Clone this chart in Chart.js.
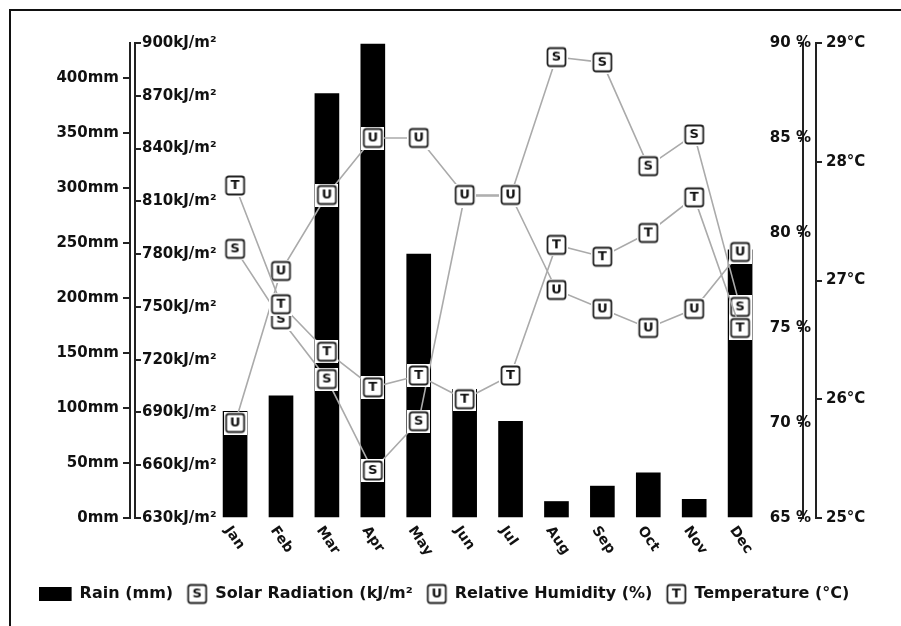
<!DOCTYPE html>
<html>
<head>
<meta charset="utf-8">
<script src="https://cdn.jsdelivr.net/npm/chart.js@4.4.1/dist/chart.umd.min.js"></script>
<style>
  html, body { margin: 0; padding: 0; background: #fff; }
  #wrap { position: relative; width: 901px; height: 626px; }
  #frame { position: absolute; left: 9px; top: 9px; width: 892px; height: 617px;
           border-top: 2px solid #111; border-left: 2px solid #111; box-sizing: border-box; }
  #chart { position: absolute; left: 0; top: 0; }
</style>
</head>
<body>
<div id="wrap">
  <div id="frame"></div>
  <canvas id="chart" width="901" height="626"></canvas>
</div>
<script>
// Dados
const months = ["Jan", "Feb", "Mar", "Apr", "May", "Jun", "Jul", "Aug", "Sep", "Oct", "Nov", "Dec"];
const rain = [97, 111, 386, 431, 240, 117, 88, 15, 29, 41, 17, 244];
const solar = [783, 743, 709, 657, 685, 813, 813, 892, 889, 830, 848, 750];
const humidity = [70, 78, 82, 85, 85, 82, 82, 77, 76, 75, 76, 79];
const temperature = [27.8, 26.8, 26.4, 26.1, 26.2, 26.0, 26.2, 27.3, 27.2, 27.4, 27.7, 26.6];

const font = "DejaVu Sans";
const ink = "#111";

// Marcadores quadrados com letra
function letterBox(letter) {
	const c = document.createElement("canvas");
	c.width = 23;
	c.height = 23;
	const g = c.getContext("2d");
	g.fillStyle = "#fff";
	g.fillRect(0, 0, 23, 23);
	g.beginPath();
	g.roundRect(2.5, 2.5, 18, 18, 2.5);
	g.fillStyle = "#fff";
	g.fill();
	g.lineWidth = 1.8;
	g.strokeStyle = "#222";
	g.stroke();
	g.fillStyle = ink;
	g.font = "bold 13px '" + font + "'";
	g.textAlign = "center";
	g.textBaseline = "middle";
	g.fillText(letter, 11.5, 12);
	return c;
}

// Caixa preta da legenda da chuva (deslocada para a esquerda)
function rainBox() {
	const c = document.createElement("canvas");
	c.width = 46;
	c.height = 14;
	const g = c.getContext("2d");
	g.fillStyle = "#000";
	g.fillRect(0, 0, 33, 14);
	return c;
}

// Rótulos dos meses inclinados
const monthLabels = {
	id: "monthLabels",
	afterDraw(chart) {
		const xs = chart.scales.x;
		const ctx = chart.ctx;
		ctx.save();
		ctx.font = "bold 14px '" + font + "'";
		ctx.fillStyle = ink;
		ctx.textAlign = "left";
		ctx.textBaseline = "top";
		months.forEach((m, i) => {
			ctx.save();
			ctx.translate(xs.getPixelForValue(i) - 2, chart.chartArea.bottom + 6);
			ctx.rotate((55 * Math.PI) / 180);
			ctx.fillText(m, 0, 0);
			ctx.restore();
		});
		ctx.restore();
	},
};

const lineStyle = {
	type: "line",
	borderColor: "#aaaaaa",
	borderWidth: 1.6,
	pointRadius: 9,
	tension: 0,
	xAxisID: "x",
};

Chart.defaults.font.family = font;
Chart.defaults.font.weight = "bold";
Chart.defaults.font.size = 15;
Chart.defaults.color = ink;

new Chart(document.getElementById("chart"), {
	type: "bar",
	data: {
		labels: months.map((m, i) => i),
		datasets: [
			{
				label: "Rain (mm)",
				data: rain,
				backgroundColor: "#000",
				barThickness: 24,
				yAxisID: "yRain",
				xAxisID: "x",
				pointStyle: rainBox(),
				order: 4,
			},
			{ ...lineStyle, label: "Solar Radiation (kJ/m²", data: solar, yAxisID: "ySolar", pointStyle: letterBox("S"), order: 3 },
			{ ...lineStyle, label: "Relative Humidity (%)", data: humidity, yAxisID: "yHum", pointStyle: letterBox("U"), order: 2 },
			{ ...lineStyle, label: "Temperature (°C)", data: temperature, yAxisID: "yTemp", pointStyle: letterBox("T"), order: 1 },
		],
	},
	options: {
		responsive: false,
		animation: false,
		layout: { padding: { top: 43, bottom: 14, left: 0, right: 0 } },
		plugins: {
			tooltip: { enabled: false },
			legend: {
				position: "bottom",
				labels: {
					usePointStyle: true,
					pointStyleWidth: 20,
					padding: 14,
					font: { size: 16, weight: "bold" },
					sort: (a, b) => a.datasetIndex - b.datasetIndex,
				},
			},
		},
		scales: {
			x: {
				type: "linear",
				offset: false,
				min: -2.18,
				max: 12.37,
				grid: { display: false, offset: false },
				border: { display: false },
				ticks: { display: false },
				afterFit: (s) => { s.height = 54; },
			},
			yRain: {
				position: "left",
				weight: 1,
				min: 0,
				max: 432,
				ticks: { stepSize: 50, includeBounds: false, padding: 4, callback: (v) => v + "mm" },
				grid: { drawOnChartArea: false, tickLength: 7, color: "#222", lineWidth: 2 },
				border: { color: "#222", width: 2 },
				afterFit: (s) => { s.width = 130; },
			},
			ySolar: {
				position: "left",
				weight: 0,
				min: 630,
				max: 900,
				ticks: { stepSize: 30, mirror: true, padding: 7, callback: (v) => v + "kJ/m²" },
				grid: { drawOnChartArea: false, tickLength: -6, color: "#222", lineWidth: 2 },
				border: { color: "#222", width: 2 },
				afterFit: (s) => { s.width = 5; },
			},
			yHum: {
				position: "right",
				weight: 0,
				min: 65,
				max: 90,
				ticks: { stepSize: 5, mirror: true, padding: 8, callback: (v) => v + " %" },
				grid: { drawOnChartArea: false, tickLength: -5, color: "#222", lineWidth: 2 },
				border: { color: "#222", width: 2 },
				afterFit: (s) => { s.width = 13; },
			},
			yTemp: {
				position: "right",
				weight: 1,
				min: 25,
				max: 29,
				ticks: { stepSize: 1, padding: 4, callback: (v) => v + "°C" },
				grid: { drawOnChartArea: false, tickLength: 6, color: "#222", lineWidth: 2 },
				border: { color: "#222", width: 2 },
				afterFit: (s) => { s.width = 85; },
			},
		},
	},
	plugins: [monthLabels],
});
</script>
</body>
</html>
